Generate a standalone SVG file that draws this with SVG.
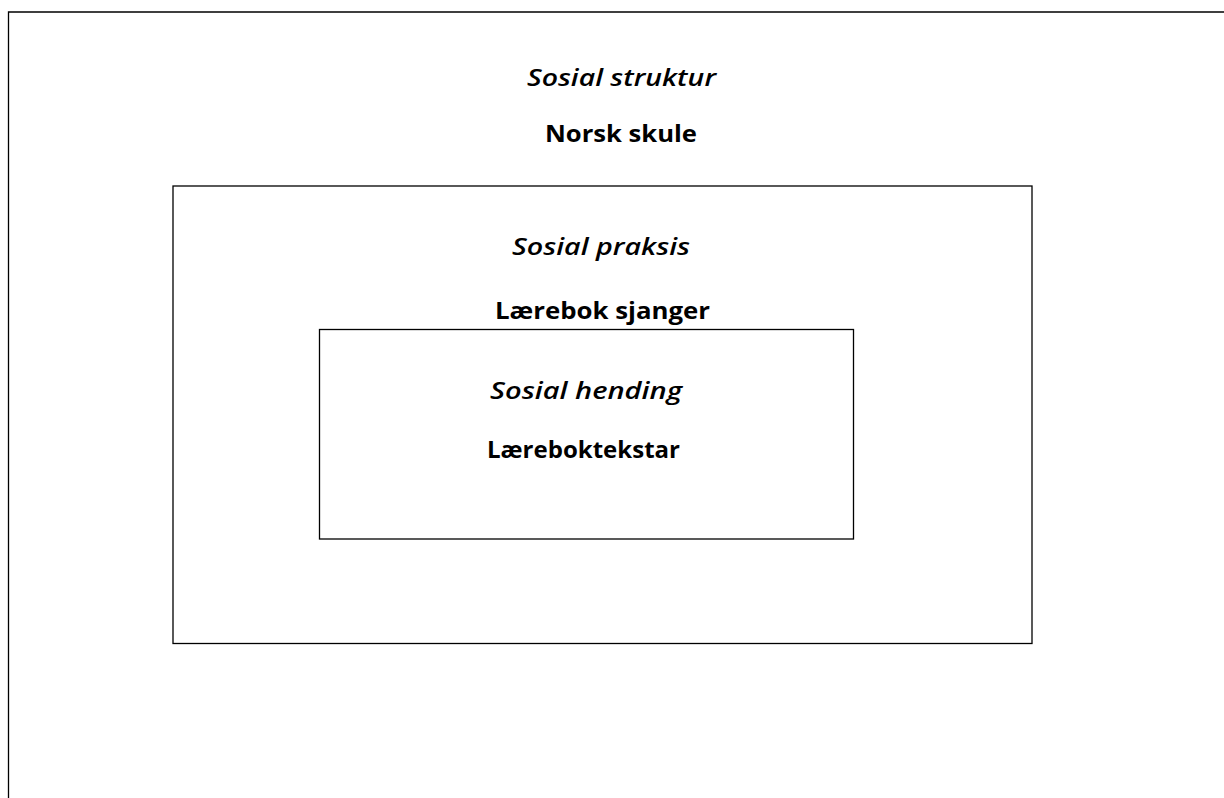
<svg xmlns="http://www.w3.org/2000/svg" width="1224" height="798" viewBox="0 0 1224 798">
<style>
.box{fill:none;stroke:#000;stroke-width:1.3}
.t{font-family:"Open Sans","Liberation Sans",sans-serif;font-size:24px;fill:#000}
.i{font-style:italic;font-weight:600}
.b{font-weight:bold}
</style>
<rect width="1224" height="798" fill="#fff"/>
<g id="sosial-struktur">
<path class="box" d="M8.5 830 V12 H1240"/>
<text class="t i" x="527" y="86" textLength="189" lengthAdjust="spacingAndGlyphs">Sosial struktur</text>
<text class="t b" x="545" y="142" textLength="152" lengthAdjust="spacingAndGlyphs">Norsk skule</text>
</g>
<g id="sosial-praksis">
<rect class="box" x="173" y="186" width="859" height="457.5"/>
<text class="t i" x="512" y="255" textLength="178" lengthAdjust="spacingAndGlyphs">Sosial praksis</text>
<text class="t b" x="495" y="319" textLength="215" lengthAdjust="spacingAndGlyphs">Lærebok sjanger</text>
</g>
<g id="sosial-hending">
<rect class="box" x="319.5" y="329.5" width="534" height="209.5"/>
<text class="t i" x="490" y="399" textLength="192" lengthAdjust="spacingAndGlyphs">Sosial hending</text>
<text class="t b" x="487" y="458" textLength="193" lengthAdjust="spacingAndGlyphs">Læreboktekstar</text>
</g>
<g id="connectors"></g>
</svg>
